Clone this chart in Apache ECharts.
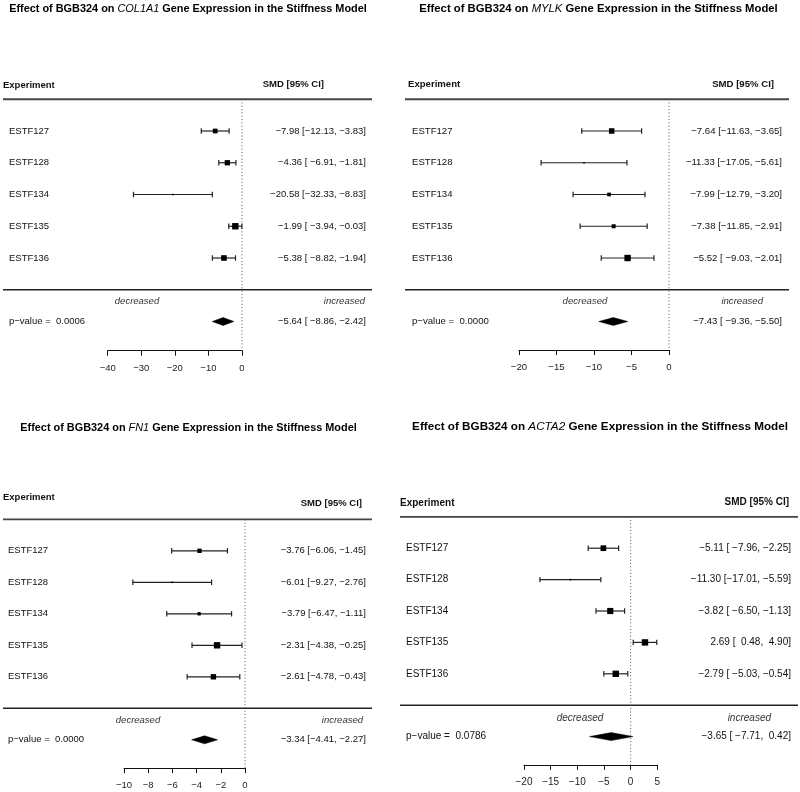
<!DOCTYPE html>
<html><head><meta charset="utf-8">
<script src="https://cdn.jsdelivr.net/npm/echarts@6/dist/echarts.min.js"></script>
<style>html,body{margin:0;padding:0;background:#fff}#c{width:800px;height:792px}</style>
</head><body><div id="c"></div>
<script>
// ---------- data ----------
const studies = ['ESTF127', 'ESTF128', 'ESTF134', 'ESTF135', 'ESTF136'];
const genes = ['COL1A1', 'MYLK', 'FN1', 'ACTA2'];

const col1a1Est = [-7.98, -4.36, -20.58, -1.99, -5.38];
const col1a1Lower = [-12.13, -6.91, -32.33, -3.94, -8.82];
const col1a1Upper = [-3.83, -1.81, -8.83, -0.03, -1.94];
const col1a1Weight = [20, 22.8, 5, 28, 24.2];
const col1a1Summary = [-5.64, -8.86, -2.42];
const col1a1PValue = '0.0006';
const col1a1Ticks = [-40, -30, -20, -10, 0];

const mylkEst = [-7.64, -11.33, -7.99, -7.38, -5.52];
const mylkLower = [-11.63, -17.05, -12.79, -11.85, -9.03];
const mylkUpper = [-3.65, -5.61, -3.20, -2.91, -2.01];
const mylkWeight = [24, 11, 18, 19, 27];
const mylkSummary = [-7.43, -9.36, -5.50];
const mylkPValue = '0.0000';
const mylkTicks = [-20, -15, -10, -5, 0];

const fn1Est = [-3.76, -6.01, -3.79, -2.31, -2.61];
const fn1Lower = [-6.06, -9.27, -6.47, -4.38, -4.78];
const fn1Upper = [-1.45, -2.76, -1.11, -0.25, -0.43];
const fn1Weight = [20, 12, 17, 26, 23];
const fn1Summary = [-3.34, -4.41, -2.27];
const fn1PValue = '0.0000';
const fn1Ticks = [-10, -8, -6, -4, -2, 0];

const acta2Est = [-5.11, -11.30, -3.82, 2.69, -2.79];
const acta2Lower = [-7.96, -17.01, -6.50, 0.48, -5.03];
const acta2Upper = [-2.25, -5.59, -1.13, 4.90, -0.54];
const acta2Weight = [21, 12, 22, 22.5, 22.5];
const acta2Summary = [-3.65, -7.71, 0.42];
const acta2PValue = '0.0786';
const acta2Ticks = [-20, -15, -10, -5, 0, 5];

const datasets = [
  {est: col1a1Est, lo: col1a1Lower, hi: col1a1Upper, w: col1a1Weight, sum: col1a1Summary, p: col1a1PValue, ticks: col1a1Ticks},
  {est: mylkEst, lo: mylkLower, hi: mylkUpper, w: mylkWeight, sum: mylkSummary, p: mylkPValue, ticks: mylkTicks},
  {est: fn1Est, lo: fn1Lower, hi: fn1Upper, w: fn1Weight, sum: fn1Summary, p: fn1PValue, ticks: fn1Ticks},
  {est: acta2Est, lo: acta2Lower, hi: acta2Upper, w: acta2Weight, sum: acta2Summary, p: acta2PValue, ticks: acta2Ticks}
];

// ---------- layout (pixels) ----------
const layout = [
  {gl: 107.7, gt: 99.25, gw: 134.3, rh: 31.75, ymax: 7.92, titleX: 188, titleY: 9, titleFs: 10.9, fs: 9.5,
   expX: 3, expRow: -0.45, smdX: 324, smdRow: -0.48, nameX: 9, rightX: 366, ruleX1: 3, ruleX2: 372, decX: 137, incX: 365, labRow: 6.35},
  {gl: 519, gt: 99.25, gw: 150, rh: 31.75, ymax: 7.9, titleX: 598.5, titleY: 9, titleFs: 11.3, fs: 9.6,
   expX: 408, expRow: -0.48, smdX: 774, smdRow: -0.48, nameX: 412, rightX: 782, ruleX1: 405, ruleX2: 789, decX: 585, incX: 763, labRow: 6.35},
  {gl: 124, gt: 519.3, gw: 121, rh: 31.5, ymax: 7.9, titleX: 188.5, titleY: 427.5, titleFs: 10.9, fs: 9.5,
   expX: 3, expRow: -0.71, smdX: 362, smdRow: -0.49, nameX: 8, rightX: 366, ruleX1: 3, ruleX2: 372, decX: 138, incX: 363, labRow: 6.37},
  {gl: 524, gt: 516.8, gw: 133.3, rh: 31.4, ymax: 7.9, titleX: 600, titleY: 426.5, titleFs: 11.7, fs: 10,
   expX: 400, expRow: -0.43, smdX: 789, smdRow: -0.46, nameX: 406, rightX: 791, ruleX1: 400, ruleX2: 798, decX: 580, incX: 771, labRow: 6.4}
];

const FONT = '"Liberation Sans", Arial, Helvetica, sans-serif';
const INK = '#111';
const SUMROW = 7;
const MINUS = '\u2212';
const fmt = v => v.toFixed(2).replace('-', MINUS);

function ciTexts(d) {
  const e = d.est.concat([d.sum[0]]).map(fmt);
  const l = d.lo.concat([d.sum[1]]).map(fmt);
  const u = d.hi.concat([d.sum[2]]).map(fmt);
  const wl = Math.max(...l.map(s => s.length));
  const wu = Math.max(...u.map(s => s.length));
  return e.map((s, i) => s + ' [' + l[i].padStart(wl) + ', ' + u[i].padStart(wu) + ']');
}

function txt(x, y, text, fs, align, extra) {
  return {type: 'text', x: x, y: y, style: Object.assign({
    text: text, fill: INK, font: fs + 'px ' + FONT, textAlign: align, textVerticalAlign: 'middle'
  }, extra || {})};
}

const option = {animation: false, backgroundColor: '#fff', grid: [], xAxis: [], yAxis: [], series: [], graphic: []};

datasets.forEach((d, gi) => {
  const L = layout[gi];
  const texts = ciTexts(d);
  const wMin = Math.min(...d.w), wMax = Math.max(...d.w);
  const side = w => 1.6 + 4.8 * (w - wMin) / (wMax - wMin);

  option.grid.push({left: L.gl, top: L.gt, width: L.gw, height: L.rh * L.ymax, containLabel: false, outerBoundsMode: 'none'});
  option.xAxis.push({
    type: 'value', gridIndex: gi, min: d.ticks[0], max: d.ticks[d.ticks.length - 1], interval: d.ticks[1] - d.ticks[0],
    axisLine: {show: true, onZero: false, lineStyle: {color: INK, width: 1}},
    axisTick: {show: true, inside: false, length: 5, lineStyle: {color: INK, width: 1}},
    axisLabel: {show: true, fontSize: L.fs, fontFamily: FONT, color: '#222', margin: 12.5, showMinLabel: true, showMaxLabel: true,
      formatter: v => String(v).replace('-', MINUS)},
    splitLine: {show: false}
  });
  option.yAxis.push({type: 'value', gridIndex: gi, inverse: true, min: 0, max: L.ymax, show: false});

  // rules, zero line, headers, summary texts
  option.series.push({
    type: 'custom', xAxisIndex: gi, yAxisIndex: gi, clip: false, silent: true,
    data: [[0, 0]], encode: {x: 0, y: 1},
    renderItem: (params, api) => {
      const y0 = api.coord([0, 0])[1];
      const y6 = api.coord([0, 6])[1];
      const z = api.coord([0, 0]);
      const zb = api.coord([0, L.ymax]);
      const yr = r => api.coord([0, r])[1];
      return {type: 'group', children: [
        {type: 'line', shape: {x1: L.ruleX1, y1: y0, x2: L.ruleX2, y2: y0}, style: {stroke: '#444', lineWidth: 1.8}},
        {type: 'line', shape: {x1: L.ruleX1, y1: y6, x2: L.ruleX2, y2: y6}, style: {stroke: '#222', lineWidth: 1.4}},
        {type: 'line', shape: {x1: z[0], y1: z[1], x2: zb[0], y2: zb[1]}, style: {stroke: '#555', lineWidth: 1, lineDash: [1, 2.3]}},
        txt(L.expX, yr(L.expRow), 'Experiment', L.fs, 'left', {font: 'bold ' + L.fs + 'px ' + FONT}),
        txt(L.smdX, yr(L.smdRow), 'SMD [95% CI]', L.fs, 'right', {font: 'bold ' + L.fs + 'px ' + FONT}),
        txt(L.decX, yr(L.labRow), 'decreased', L.fs, 'center', {font: 'italic ' + L.fs + 'px ' + FONT, fill: '#333'}),
        txt(L.incX, yr(L.labRow), 'increased', L.fs, 'right', {font: 'italic ' + L.fs + 'px ' + FONT, fill: '#333'}),
        txt(L.nameX, yr(SUMROW), 'p' + MINUS + 'value =  ' + d.p, L.fs, 'left'),
        txt(L.rightX, yr(SUMROW), texts[texts.length - 1], L.fs, 'right')
      ]};
    }
  });

  // study row texts
  option.series.push({
    type: 'custom', xAxisIndex: gi, yAxisIndex: gi, clip: false, silent: true,
    data: studies.map((s, i) => [0, i + 1]), encode: {x: 0, y: 1},
    renderItem: (params, api) => {
      const y = api.coord([0, api.value(1)])[1];
      const i = params.dataIndex;
      return {type: 'group', children: [
        txt(L.nameX, y, studies[i], L.fs, 'left'),
        txt(L.rightX, y, texts[i], L.fs, 'right')
      ]};
    }
  });

  // error bars
  option.series.push({
    type: 'custom', xAxisIndex: gi, yAxisIndex: gi, clip: false, silent: true,
    data: d.est.map((e, i) => [e, i + 1, d.lo[i], d.hi[i]]), encode: {x: [0, 2, 3], y: 1},
    renderItem: (params, api) => {
      const r = api.value(1);
      const a = api.coord([api.value(2), r]);
      const b = api.coord([api.value(3), r]);
      const c = 2.7;
      const st = {stroke: '#222', lineWidth: 1.2};
      return {type: 'group', children: [
        {type: 'line', shape: {x1: a[0], y1: a[1], x2: b[0], y2: b[1]}, style: st},
        {type: 'line', shape: {x1: a[0], y1: a[1] - c, x2: a[0], y2: a[1] + c}, style: st},
        {type: 'line', shape: {x1: b[0], y1: b[1] - c, x2: b[0], y2: b[1] + c}, style: st}
      ]};
    }
  });

  // point estimates (squares sized by weight)
  option.series.push({
    type: 'scatter', xAxisIndex: gi, yAxisIndex: gi, silent: true, symbol: 'rect',
    data: d.est.map((e, i) => [e, i + 1, d.w[i]]),
    symbolSize: v => side(v[2]),
    itemStyle: {color: '#000', opacity: 1}
  });

  // summary diamond
  option.series.push({
    type: 'custom', xAxisIndex: gi, yAxisIndex: gi, clip: false, silent: true,
    data: [[d.sum[0], SUMROW, d.sum[1], d.sum[2]]], encode: {x: [0, 2, 3], y: 1},
    renderItem: (params, api) => {
      const r = api.value(1);
      const m = api.coord([api.value(0), r]);
      const a = api.coord([api.value(2), r]);
      const b = api.coord([api.value(3), r]);
      const h = 4;
      return {type: 'polygon', shape: {points: [[a[0], a[1]], [m[0], m[1] - h], [b[0], b[1]], [m[0], m[1] + h]]},
        style: {fill: '#000', stroke: '#000', lineWidth: 0.5}};
    }
  });

  // title
  const bold = {fontWeight: 'bold', fontSize: L.titleFs, fontFamily: FONT, fill: '#000'};
  const ital = {fontStyle: 'italic', fontSize: L.titleFs, fontFamily: FONT, fill: '#000'};
  option.graphic.push({
    type: 'text', x: L.titleX, y: L.titleY,
    style: {
      text: '{b|Effect of BGB324 on }{i|' + genes[gi] + '}{b| Gene Expression in the Stiffness Model}',
      rich: {b: bold, i: ital}, textAlign: 'center', textVerticalAlign: 'middle'
    }
  });
});

const chart = echarts.init(document.getElementById('c'), null, {renderer: 'canvas'});
chart.setOption(option);
</script>
</body></html>
